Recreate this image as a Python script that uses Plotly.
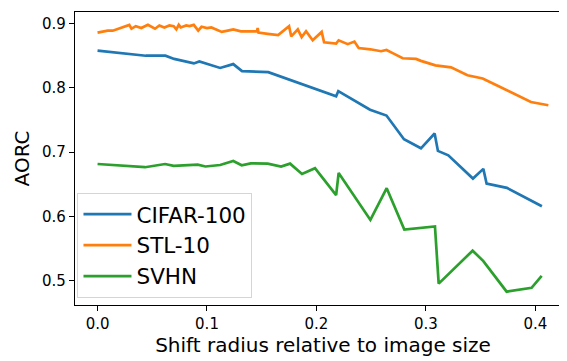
import plotly.graph_objects as go

# CIFAR-100
cifar_x = [0.0, 0.044, 0.062, 0.070, 0.088, 0.093, 0.112, 0.124, 0.132, 0.156,
           0.218, 0.220, 0.249, 0.264, 0.280, 0.2955, 0.308, 0.311, 0.3205,
           0.343, 0.3525, 0.3555, 0.374, 0.406]
cifar_y = [0.858, 0.850, 0.850, 0.845, 0.838, 0.841, 0.831, 0.837, 0.826, 0.8245,
           0.787, 0.795, 0.766, 0.757, 0.720, 0.706, 0.729, 0.702, 0.695,
           0.659, 0.674, 0.651, 0.6445, 0.616]

# STL-10
stl_x = [0.0, 0.0093, 0.0139, 0.0215, 0.029, 0.031, 0.035, 0.040, 0.046, 0.0525,
         0.0565, 0.061, 0.0657, 0.0696, 0.072, 0.0742, 0.076, 0.081, 0.084, 0.0879,
         0.092, 0.095, 0.100, 0.104, 0.108, 0.1135, 0.119, 0.124, 0.131, 0.137,
         0.1457, 0.1463, 0.147, 0.1555, 0.165, 0.175, 0.177, 0.183, 0.1865, 0.1905,
         0.1966, 0.2048, 0.207, 0.218, 0.2203, 0.2286, 0.2347, 0.2386, 0.2493, 0.259,
         0.264, 0.2697, 0.2788, 0.291, 0.2955, 0.3087, 0.323, 0.338, 0.3519, 0.367,
         0.3823, 0.396, 0.4119]
stl_y = [0.886, 0.889, 0.889, 0.893, 0.898, 0.892, 0.896, 0.893, 0.898, 0.892,
         0.897, 0.894, 0.897, 0.896, 0.891, 0.898, 0.894, 0.897, 0.896, 0.898,
         0.889, 0.895, 0.893, 0.894, 0.891, 0.887, 0.889, 0.891, 0.888, 0.888,
         0.888, 0.893, 0.886, 0.884, 0.882, 0.896, 0.880, 0.891, 0.879, 0.888,
         0.874, 0.887, 0.871, 0.869, 0.874, 0.868, 0.872, 0.862, 0.860, 0.857,
         0.859, 0.854, 0.846, 0.845, 0.842, 0.835, 0.832, 0.8196, 0.8146, 0.802,
         0.789, 0.778, 0.773]

# SVHN
svhn_x = [0.0, 0.0434, 0.0617, 0.0696, 0.0915, 0.0986, 0.112, 0.124, 0.1317, 0.140,
          0.1555, 0.1677, 0.1759, 0.1868, 0.1987, 0.218, 0.2203, 0.2493, 0.2642,
          0.2803, 0.3083, 0.3117, 0.3427, 0.3525, 0.3738, 0.3966, 0.4058]
svhn_y = [0.6816, 0.6766, 0.6816, 0.6786, 0.6807, 0.6777, 0.680, 0.6862, 0.6796, 0.6826,
          0.6822, 0.6777, 0.6822, 0.666, 0.675, 0.6333, 0.6676, 0.5946, 0.6439,
          0.5795, 0.5845, 0.4955, 0.5468, 0.5306, 0.483, 0.489, 0.5075]

series = [
    ("CIFAR-100", cifar_x, cifar_y, "#1f77b4"),
    ("STL-10", stl_x, stl_y, "#ff7f0e"),
    ("SVHN", svhn_x, svhn_y, "#2ca02c"),
]

fig = go.Figure()
for name, xs, ys, color in series:
    fig.add_trace(go.Scatter(x=xs, y=ys, mode="lines", name=name,
                             legendgroup=name,
                             line=dict(color=color, width=2.7)))

axis_common = dict(showline=True, linecolor="black", linewidth=1.2, mirror=True,
                   ticks="outside", ticklen=5, tickwidth=1.2, tickcolor="black",
                   showgrid=False, zeroline=False,
                   tickfont=dict(size=15, color="black"))

fig.update_layout(
    width=567, height=361,
    margin=dict(l=67, r=4, t=4, b=64),
    paper_bgcolor="white", plot_bgcolor="white",
    font=dict(family="DejaVu Sans", color="black"),
    xaxis=dict(range=[-0.0206, 0.4326], tickvals=[0, 0.1, 0.2, 0.3, 0.4],
               tickformat=".1f",
               title=dict(text="Shift radius relative to image size",
                          font=dict(size=20), standoff=4),
               **axis_common),
    yaxis=dict(range=[0.4623, 0.918], tickvals=[0.5, 0.6, 0.7, 0.8, 0.9],
               tickformat=".1f",
               **axis_common),
    legend=dict(x=0.005, y=0.025, xanchor="left", yanchor="bottom",
                bgcolor="rgba(255,255,255,0.8)", bordercolor="#d5d5d5",
                borderwidth=1, font=dict(size=21.5), itemwidth=48,
                traceorder="grouped", tracegroupgap=0),
    showlegend=True,
)

# y-axis title placed as annotation so it can sit closer to the figure edge
fig.add_annotation(text="AORC", xref="paper", yref="paper",
                   x=-0.107, y=0.5, xanchor="center", yanchor="middle",
                   textangle=-90, showarrow=False, font=dict(size=20))

fig.write_html("out.html")
